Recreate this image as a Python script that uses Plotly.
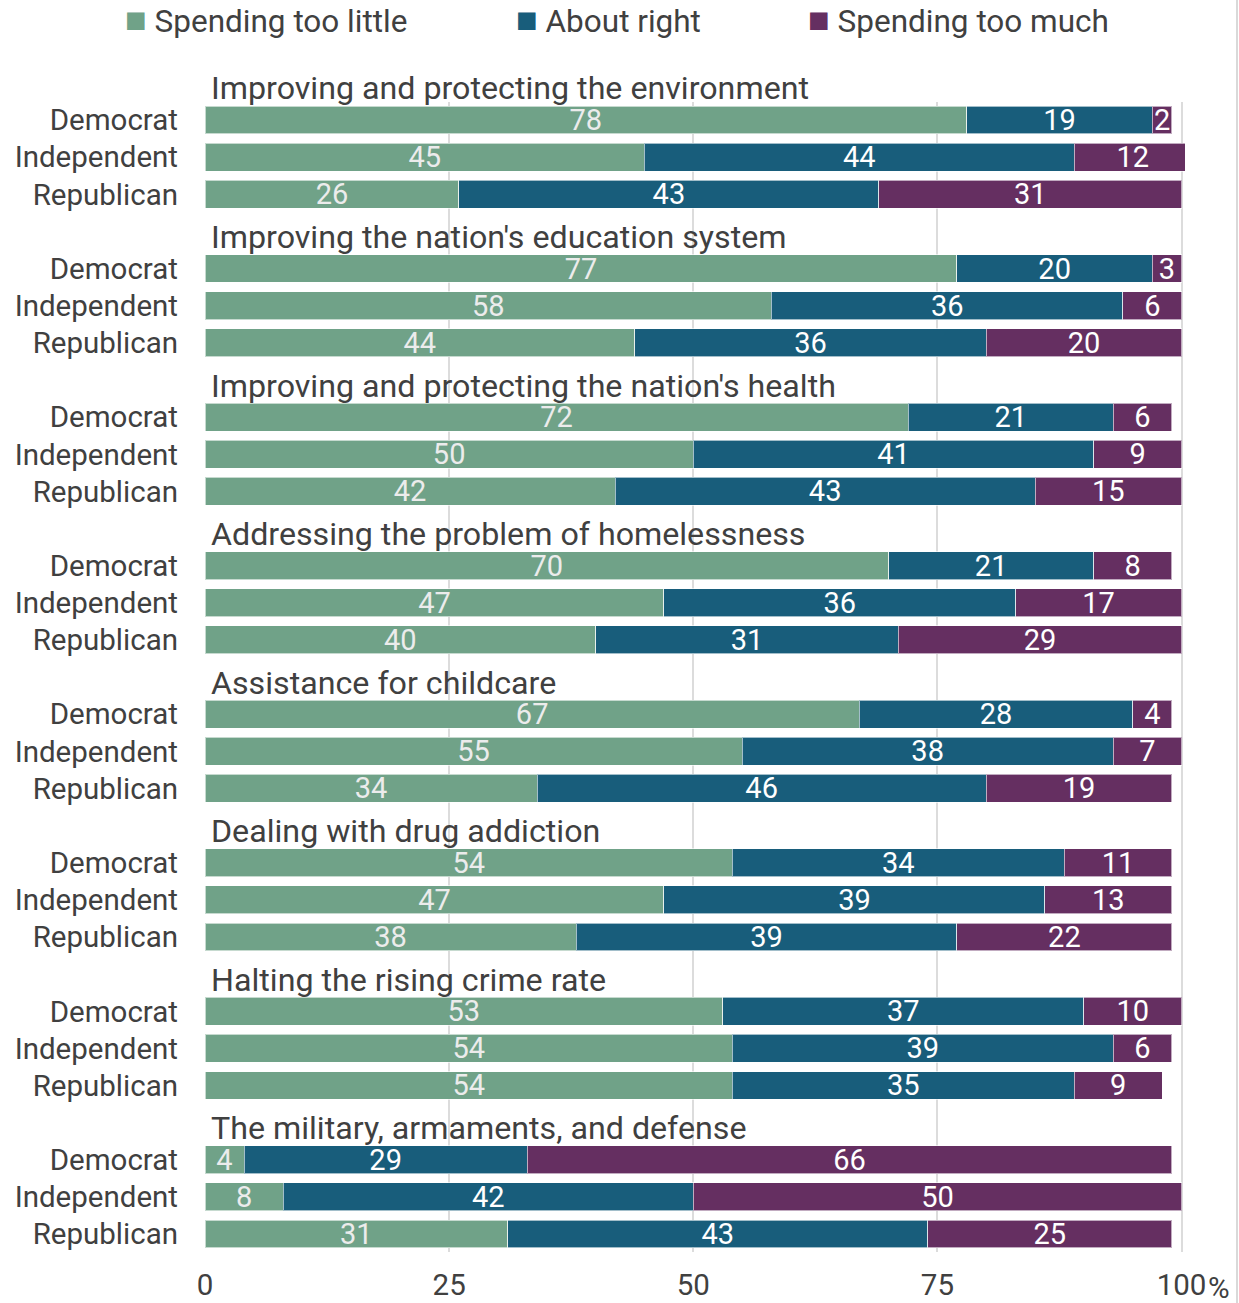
import plotly.graph_objects as go

# Survey data: share of respondents by party, per spending area
topics = [
    "Improving and protecting the environment",
    "Improving the nation's education system",
    "Improving and protecting the nation's health",
    "Addressing the problem of homelessness",
    "Assistance for childcare",
    "Dealing with drug addiction",
    "Halting the rising crime rate",
    "The military, armaments, and defense",
]
parties = ["Democrat", "Independent", "Republican"]

too_little = [78, 45, 26, 77, 58, 44, 72, 50, 42, 70, 47, 40,
              67, 55, 34, 54, 47, 38, 53, 54, 54, 4, 8, 31]
about_right = [19, 44, 43, 20, 36, 36, 21, 41, 43, 21, 36, 31,
               28, 38, 46, 34, 39, 39, 37, 39, 35, 29, 42, 43]
too_much = [2, 12, 31, 3, 6, 20, 6, 9, 15, 8, 17, 29,
            4, 7, 19, 11, 13, 22, 10, 6, 9, 66, 50, 25]

series = [
    ("Spending too little", too_little, "#70a288", "#ececec"),
    ("About right", about_right, "#185d7b", "#ffffff"),
    ("Spending too much", too_much, "#652f61", "#ffffff"),
]

FONT = "Roboto"
TEXT = "#404040"

X_MAX = 100.35
Y_TOP, Y_BOTTOM = 0.515, 31.485

# Each topic takes four rows: a heading row followed by one row per party
rows = [4 * g + 1 + p for g in range(len(topics)) for p in range(len(parties))]
row_labels = [parties[p] for g in range(len(topics)) for p in range(len(parties))]


def row_to_paper(r):
    return (Y_BOTTOM - r) / (Y_BOTTOM - Y_TOP)


fig = go.Figure()
for name, vals, color, tcolor in series:
    fig.add_trace(go.Bar(
        y=rows, x=vals, name=name, orientation="h",
        marker=dict(color=color, line=dict(color="rgba(255,255,255,0.6)", width=1)),
        width=0.75,
        text=[str(v) for v in vals], textposition="inside",
        insidetextanchor="middle", textangle=0,
        textfont=dict(family=FONT, size=29, color=tcolor),
        showlegend=False, hoverinfo="skip",
    ))

annotations = []
for g, t in enumerate(topics):
    annotations.append(dict(
        x=0, y=row_to_paper(4 * g + 0.15), xref="paper", yref="paper",
        text=t, showarrow=False,
        xanchor="left", yanchor="middle", xshift=4,
        font=dict(family=FONT, size=32.2, color=TEXT),
    ))

# Legend row across the top
legend_x = [-82, 309, 601]
for (name, vals, color, tcolor), lx in zip(series, legend_x):
    annotations.append(dict(
        x=0, y=1.0, xref="paper", yref="paper", xshift=lx, yshift=82,
        text=f"<span style='color:{color};font-size:36px'>■</span> {name}",
        showarrow=False, xanchor="left", yanchor="middle",
        font=dict(family=FONT, size=31.5, color=TEXT),
    ))

# Percent sign after the last tick label
annotations.append(dict(
    x=100 / X_MAX, y=0, xref="paper", yref="paper", text="%", showarrow=False,
    xanchor="left", yanchor="middle", xshift=24, yshift=-36,
    font=dict(family=FONT, size=29.5, color=TEXT),
))

fig.update_layout(
    barmode="stack",
    width=1239, height=1303,
    margin=dict(l=205, r=54, t=102, b=51, autoexpand=False),
    paper_bgcolor="white", plot_bgcolor="white",
    uniformtext=dict(minsize=29, mode="show"),
    annotations=annotations,
    shapes=[dict(type="line", xref="paper", yref="paper",
                 x0=(1237 - 205) / 980, x1=(1237 - 205) / 980, y0=-0.05, y1=1.1,
                 line=dict(color="#d9d9d9", width=2))],
    xaxis=dict(
        range=[0, X_MAX], tickvals=[0, 25, 50, 75, 100],
        ticktext=["0", "25", "50", "75", "100"],
        showgrid=True, gridcolor="#dcdcdc", gridwidth=2, zeroline=False,
        ticks="", ticklabelstandoff=12, automargin=False,
        tickfont=dict(family=FONT, size=29.5, color=TEXT),
        fixedrange=True,
    ),
    yaxis=dict(
        range=[Y_BOTTOM, Y_TOP], tickvals=rows, ticktext=row_labels,
        showgrid=False, zeroline=False, ticks="", ticklabelstandoff=26,
        automargin=False,
        tickfont=dict(family=FONT, size=29.5, color=TEXT),
        fixedrange=True,
    ),
)

fig.write_html("out.html")
